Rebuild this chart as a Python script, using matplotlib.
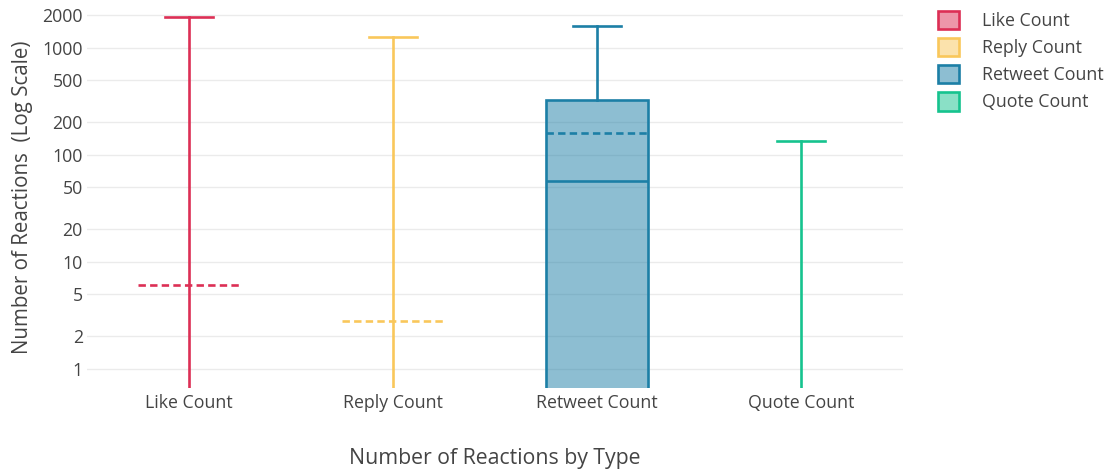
import matplotlib
matplotlib.use('Agg')
import matplotlib.pyplot as plt
from matplotlib.patches import Patch
from matplotlib.colors import to_rgba
from matplotlib.ticker import FixedLocator, FixedFormatter, NullLocator

categories = ['Like Count', 'Reply Count', 'Retweet Count', 'Quote Count']
whisker_low = [0, 0, 0, 0]
q1 = [0, 0, 0, 0]
median = [0, 0, 57, 0]
q3 = [0, 0, 326, 0]
whisker_high = [1950, 1260, 1600, 135]
means = [6.0, 2.8, 160, 0.5]
colors = ['#DC2F55', '#F9C75B', '#1C7FA6', '#16C38E']
yticks = [1, 2, 5, 10, 20, 50, 100, 200, 500, 1000, 2000]

plt.rcParams['font.family'] = ['Open Sans', 'DejaVu Sans']
text_color = '#444444'

fig = plt.figure(figsize=(11.15, 4.73), dpi=100)
W, H = 1115, 473
ax = fig.add_axes([87 / W, 85 / H, (903 - 87) / W, (466 - 85) / H])

for i, cat in enumerate(categories):
    stats = [dict(med=median[i], q1=q1[i], q3=q3[i], whislo=whisker_low[i],
                  whishi=whisker_high[i], mean=means[i], fliers=[], label=cat)]
    c = colors[i]
    ax.bxp(stats, positions=[i], widths=0.5, capwidths=0.24, patch_artist=True,
           showmeans=True, meanline=True, showfliers=False,
           boxprops=dict(facecolor=to_rgba(c, 0.5), edgecolor=c, linewidth=1.9),
           whiskerprops=dict(color=c, linewidth=1.9),
           capprops=dict(color=c, linewidth=1.9),
           medianprops=dict(color=c, linewidth=1.9),
           meanprops=dict(color=c, linewidth=1.9, linestyle=(0, (2.8, 1.6))),
           manage_ticks=False)

ax.set_yscale('log', nonpositive='clip')
ax.set_ylim(0.66, 2400)
ax.set_xlim(-0.5, 3.5)
ax.yaxis.set_major_locator(FixedLocator(yticks))
ax.yaxis.set_major_formatter(FixedFormatter([str(t) for t in yticks]))
ax.yaxis.set_minor_locator(NullLocator())
ax.set_xticks(range(len(categories)))
ax.set_xticklabels(categories)
ax.tick_params(axis='both', length=0, labelsize=12.8, colors=text_color)
ax.tick_params(axis='y', pad=3)
ax.tick_params(axis='x', pad=4.5)
ax.grid(axis='y', color='#EBEBEB', linewidth=1)
ax.set_axisbelow(True)
for s in ax.spines.values():
    s.set_visible(False)

ax.set_xlabel('Number of Reactions by Type', fontsize=15.3, color=text_color, labelpad=26)
ax.set_ylabel('Number of Reactions  (Log Scale)', fontsize=14.8, color=text_color, labelpad=7)

handles = [Patch(facecolor=to_rgba(c, 0.5), edgecolor=c, linewidth=1.9, label=l)
           for c, l in zip(colors, categories)]
fig.legend(handles=handles, loc='upper left', bbox_to_anchor=(922 / W, 1 + 5 / H),
           frameon=False, fontsize=12.8, labelcolor=text_color,
           handlelength=1.2, handleheight=1.2, handletextpad=1.25, labelspacing=0.45)

fig.savefig('out.png', dpi=100)
